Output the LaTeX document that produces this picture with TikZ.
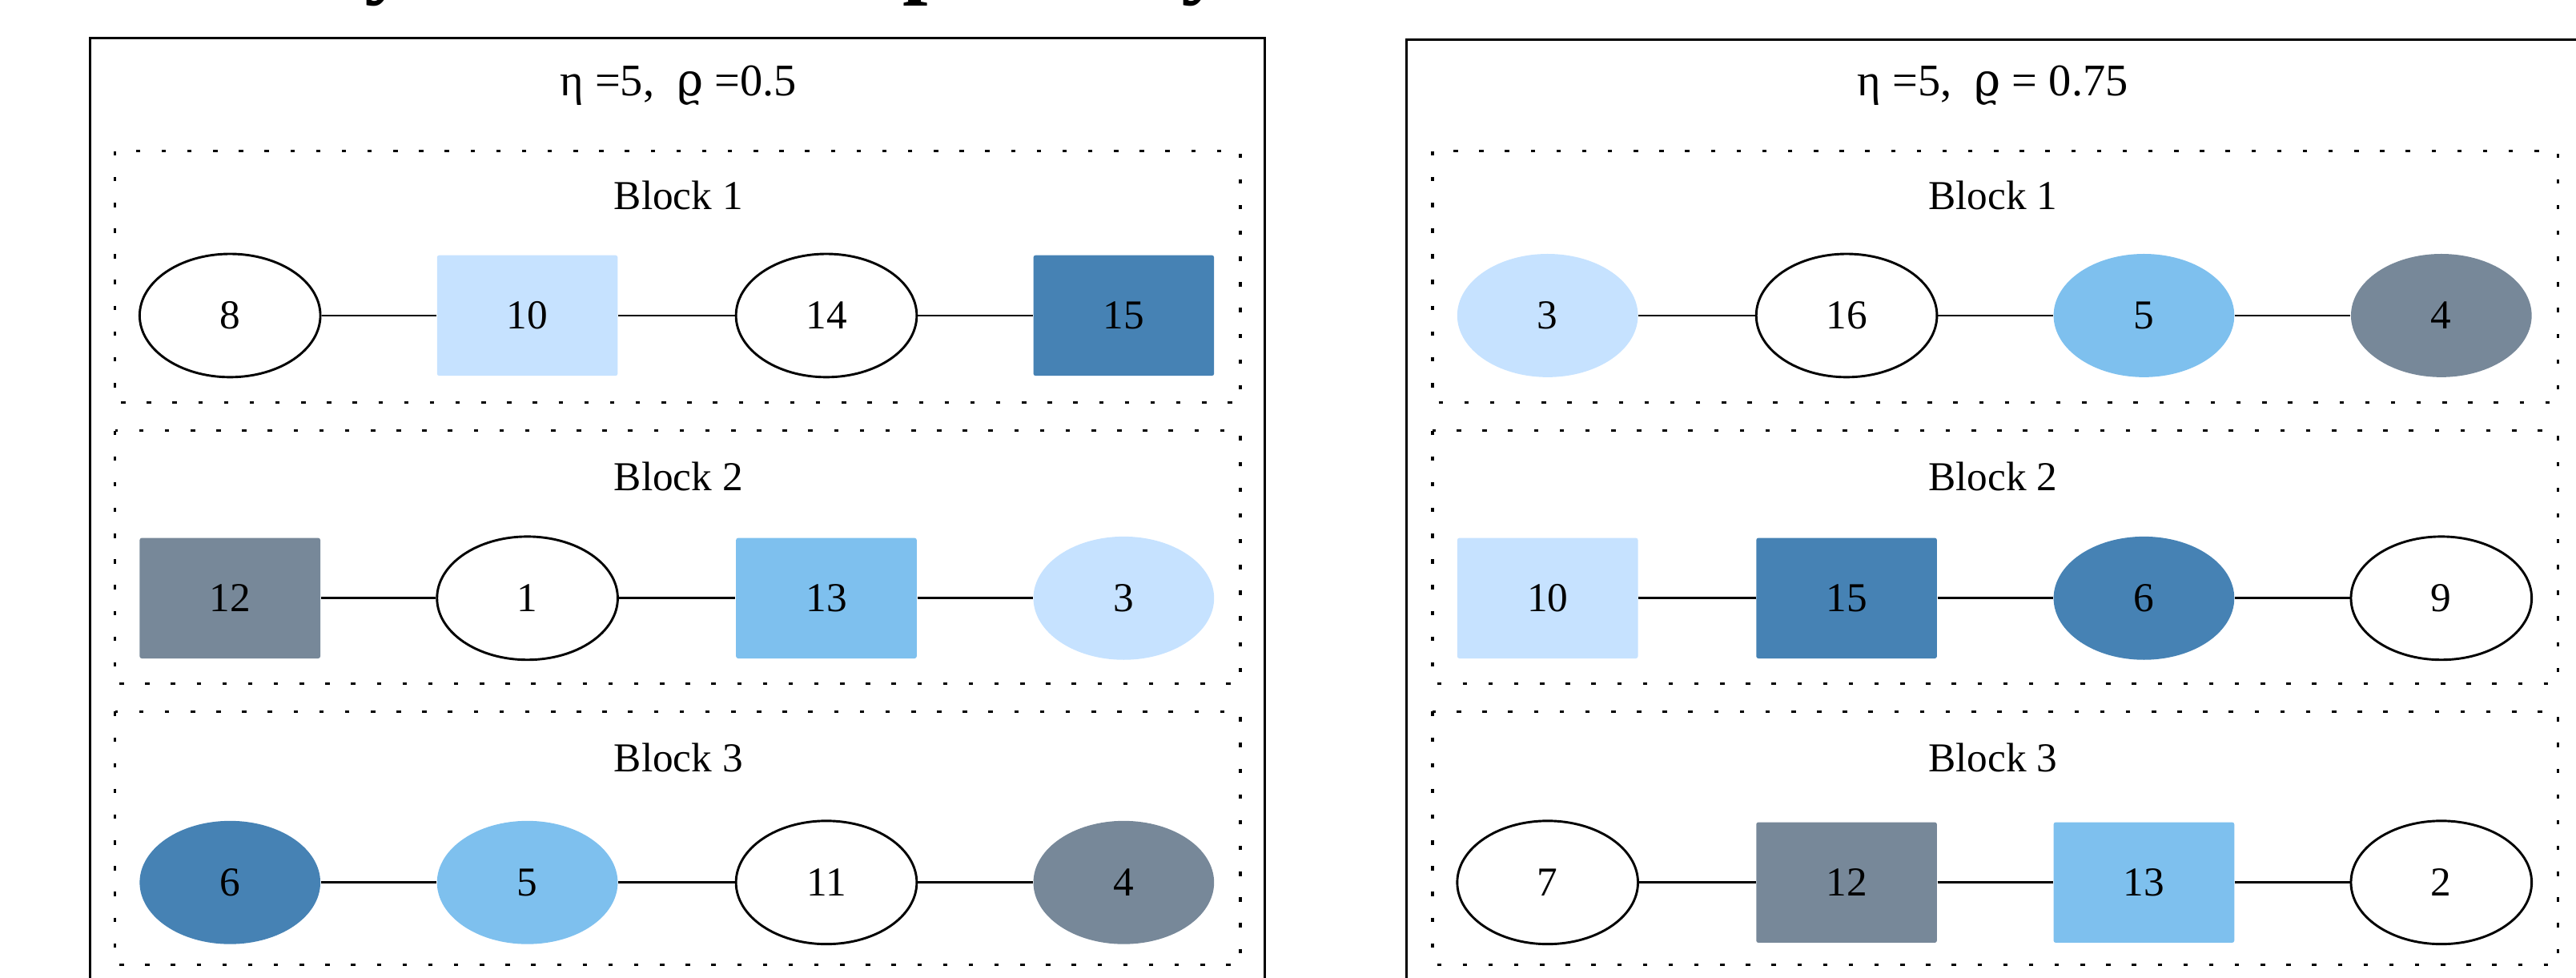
\documentclass[tikz,border=0pt]{standalone}
\usepackage{fontspec}
\setmainfont{Liberation Serif}
\newfontfamily\rhofont{DejaVu Serif}
\usetikzlibrary{shapes.geometric}

\definecolor{paleblue}{HTML}{C6E2FF}
\definecolor{skyblue}{HTML}{7EC0EE}
\definecolor{steelblue}{HTML}{4682B4}
\definecolor{slategrey}{HTML}{778899}

\begin{document}
\begin{tikzpicture}[x=0.6pt, y=-0.6pt,
  panel/.style={draw, line width=0.95pt},
  blockbox/.style={draw, line width=1pt, dash pattern=on 1.6pt off 7.8pt},
  heading/.style={font=\fontsize{16.5}{19}\selectfont, inner sep=0pt},
  blocklabel/.style={font=\fontsize{15}{18}\selectfont, inner sep=0pt},
  oval/.style={ellipse, minimum width=66pt, minimum height=45pt, inner sep=0pt,
               font=\fontsize{15}{18}\selectfont},
  openoval/.style={oval, draw, line width=0.85pt, fill=white},
  box/.style={rectangle, rounded corners=0.8pt, minimum width=66pt, minimum height=44pt,
              inner sep=0pt, font=\fontsize{15}{18}\selectfont},
  link/.style={line width=0.8pt},
  titlefrag/.style={anchor=base, inner sep=0pt, font=\fontsize{33}{36}\selectfont\bfseries}
]
\useasboundingbox (0,0) rectangle (1568,595);
\clip (0,0) rectangle (1568,595);

% descenders of the heading line above the panels
\node[titlefrag] (f1) at (236,-8) {y};
\node[titlefrag] (f2) at (565,-8) {p};
\node[titlefrag] (f3) at (733,-8) {y};

% ---------- left panel ----------
\draw[panel] (55,640) -- (55,23) -- (770,23) -- (770,640);
\node[heading] (lt) at (413,52) {η =5,\ \ {\rhofont ϱ} =0.5};

\draw[blockbox] (70,92) rectangle (755,245);
\draw[blockbox] (70,262) rectangle (755,416);
\draw[blockbox] (70,433) rectangle (755,587);
\node[blocklabel] (lb1) at (413,119) {Block 1};
\node[blocklabel] (lb2) at (413,290) {Block 2};
\node[blocklabel] (lb3) at (413,461) {Block 3};

% block 1
\node[openoval] (a1) at (140,192) {8};
\node[box, fill=paleblue] (a2) at (321,192) {10};
\node[openoval] (a3) at (503,192) {14};
\node[box, fill=steelblue] (a4) at (684,192) {15};
\draw[link] (a1) -- (a2) -- (a3) -- (a4);

% block 2
\node[box, fill=slategrey] (b1) at (140,364) {12};
\node[openoval] (b2) at (321,364) {1};
\node[box, fill=skyblue] (b3) at (503,364) {13};
\node[oval, fill=paleblue] (b4) at (684,364) {3};
\draw[link] (b1) -- (b2) -- (b3) -- (b4);

% block 3
\node[oval, fill=steelblue] (c1) at (140,537) {6};
\node[oval, fill=skyblue] (c2) at (321,537) {5};
\node[openoval] (c3) at (503,537) {11};
\node[oval, fill=slategrey] (c4) at (684,537) {4};
\draw[link] (c1) -- (c2) -- (c3) -- (c4);

% ---------- right panel ----------
\draw[panel] (856,640) -- (856,24) -- (1571,24) -- (1571,640);
\node[heading] (rt) at (1213,52) {η =5,\ \ {\rhofont ϱ} = 0.75};

\draw[blockbox] (872,92) rectangle (1557,245);
\draw[blockbox] (872,262) rectangle (1557,416);
\draw[blockbox] (872,433) rectangle (1557,587);
\node[blocklabel] (rb1) at (1213,119) {Block 1};
\node[blocklabel] (rb2) at (1213,290) {Block 2};
\node[blocklabel] (rb3) at (1213,461) {Block 3};

% block 1
\node[oval, fill=paleblue] (d1) at (942,192) {3};
\node[openoval] (d2) at (1124,192) {16};
\node[oval, fill=skyblue] (d3) at (1305,192) {5};
\node[oval, fill=slategrey] (d4) at (1486,192) {4};
\draw[link] (d1) -- (d2) -- (d3) -- (d4);

% block 2
\node[box, fill=paleblue] (e1) at (942,364) {10};
\node[box, fill=steelblue] (e2) at (1124,364) {15};
\node[oval, fill=steelblue] (e3) at (1305,364) {6};
\node[openoval] (e4) at (1486,364) {9};
\draw[link] (e1) -- (e2) -- (e3) -- (e4);

% block 3
\node[openoval] (g1) at (942,537) {7};
\node[box, fill=slategrey] (g2) at (1124,537) {12};
\node[box, fill=skyblue] (g3) at (1305,537) {13};
\node[openoval] (g4) at (1486,537) {2};
\draw[link] (g1) -- (g2) -- (g3) -- (g4);
\end{tikzpicture}
\end{document}
